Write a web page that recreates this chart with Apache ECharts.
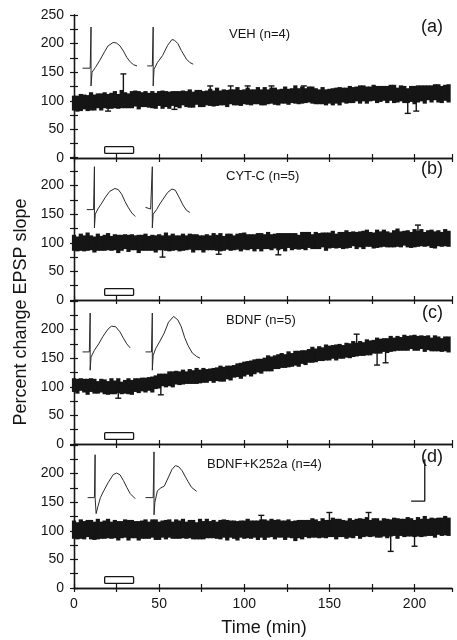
<!DOCTYPE html>
<html>
<head>
<meta charset="utf-8">
<script src="https://cdn.jsdelivr.net/npm/echarts@6/dist/echarts.min.js"></script>
<style>
html, body { margin: 0; padding: 0; background: #fff; }
#chart { width: 457px; height: 640px; }
</style>
</head>
<body>
<div id="chart"></div>
<script>
// sample times (min)
const times = [0,2,4,6,8,10,12,14,16,18,20,22,24,26,28,30,32,34,36,38,40,42,44,46,48,50,52,54,56,58,60,62,64,66,68,70,72,74,76,78,80,82,84,86,88,90,92,94,96,98,100,102,104,106,108,110,112,114,116,118,120,122,124,126,128,130,132,134,136,138,140,142,144,146,148,150,152,154,156,158,160,162,164,166,168,170,172,174,176,178,180,182,184,186,188,190,192,194,196,198,200,202,204,206,208,210,212,214,216,218,220];

// (a) VEH
const vehMean = [96,95,97,98,96,99,97,100,98,101,99,
  100,102,99,103,101,100,102,104,101,102,
  103,101,102,100,104,102,103,101,104,103,
  102,105,103,104,102,106,104,103,105,106,
  104,107,105,106,104,107,106,108,105,107,
  108,106,107,109,106,108,107,109,108,106,
  108,110,107,109,111,108,110,109,111,110,
  108,107,109,106,108,107,109,108,110,109,
  111,110,112,111,113,110,112,114,111,112,
  113,111,114,112,110,113,111,109,112,110,
  112,113,111,114,112,115,113,111,114,113];
const vehSem = [13,14,15,13,14,16,14,13,15,14,13,
  14,15,13,16,14,13,15,14,16,13,
  14,13,15,14,13,16,14,15,13,14,
  15,13,14,16,14,13,15,14,13,15,
  14,16,13,14,15,13,14,16,14,13,
  15,14,13,15,14,16,13,14,15,14,
  13,15,14,13,16,14,15,13,14,15,
  14,13,15,14,13,15,14,16,13,14,
  15,14,13,16,14,15,13,14,15,14,
  13,15,14,16,13,14,15,13,14,16,
  15,14,16,13,15,14,16,15,14,16];

// (b) CYT-C
const cytMean = [100,98,101,99,102,100,97,101,99,100,102,
  99,101,98,100,102,99,101,100,98,100,
  101,99,100,98,101,100,102,99,101,100,
  99,101,100,102,99,101,100,98,101,100,
  102,100,101,99,102,101,100,102,101,103,
  101,102,100,103,101,102,104,101,103,102,
  103,101,104,102,103,101,104,103,105,102,
  104,103,105,102,104,106,103,105,104,106,
  105,107,104,106,105,108,106,104,107,106,
  108,106,105,107,109,106,108,107,105,108,
  107,109,106,108,107,105,108,106,109,107];
const cytSem = [14,13,15,14,16,13,14,15,13,14,15,
  13,14,16,14,13,15,14,13,16,14,
  15,13,14,15,14,13,16,14,15,13,
  14,15,13,14,16,14,13,15,14,13,
  15,14,16,13,14,15,13,14,16,15,
  14,13,15,14,16,13,15,14,13,15,
  14,16,13,15,14,13,15,16,14,13,
  15,14,13,16,14,15,13,14,15,16,
  14,13,15,14,16,15,13,14,16,14,
  15,14,13,15,16,14,13,15,14,16,
  14,15,13,14,16,15,14,13,15,14];

// (c) BDNF
const bdnfMean = [103,101,104,102,100,103,101,99,102,100,98,
  101,99,102,98,100,101,99,103,102,104,
  103,105,104,108,110,112,111,114,113,116,
  115,117,116,118,117,119,118,120,119,121,
  120,122,123,122,125,124,127,129,128,131,
  133,132,135,137,136,139,141,140,143,144,
  146,145,148,147,150,149,152,151,154,156,
  155,158,157,160,159,161,160,162,161,164,
  163,166,165,167,166,169,168,170,172,171,
  173,172,175,174,176,175,177,176,178,177,
  176,178,175,177,174,176,175,173,175,174];
const bdnfSem = [12,13,11,12,14,12,13,11,12,13,12,
  14,12,13,11,12,14,13,12,13,12,
  13,12,14,12,13,11,12,13,14,12,
  12,13,11,13,12,14,12,13,12,11,
  13,12,14,13,12,13,11,12,14,13,
  12,14,13,12,13,12,14,13,12,13,
  13,12,14,12,13,14,12,13,12,14,
  12,13,12,14,13,12,14,13,12,13,
  13,14,12,13,12,14,13,12,14,13,
  12,13,14,12,13,12,14,13,12,14,
  13,12,14,13,12,14,13,12,13,14];

// (d) BDNF+K252a
const kMean = [102,100,103,101,104,102,100,103,101,102,104,
  101,103,100,102,104,101,103,102,100,102,
  103,101,104,102,100,103,102,104,101,103,
  102,104,101,103,102,100,103,101,104,102,
  103,101,102,104,101,103,102,100,103,102,
  104,102,103,101,104,102,103,105,102,104,
  103,101,104,102,100,103,102,104,103,105,
  104,102,105,103,104,106,103,105,104,102,
  105,103,106,104,105,107,104,106,105,103,
  106,104,105,107,104,106,105,107,106,104,
  107,105,108,106,107,105,108,107,109,107];
const kSem = [16,15,17,16,15,17,16,18,15,16,17,
  15,16,17,15,16,18,16,15,17,16,
  17,15,16,18,16,15,17,16,15,17,
  16,17,15,16,17,15,18,16,17,15,
  16,15,17,16,18,15,16,17,15,16,
  17,16,15,17,16,18,15,16,17,16,
  15,17,16,15,18,16,17,15,16,17,
  16,15,17,16,15,17,18,16,15,16,
  17,16,15,18,16,17,15,16,17,15,
  16,17,15,16,18,15,16,17,16,15,
  17,16,18,15,16,17,15,16,17,16];

// long error bars sticking out of the band: [t, low, high]
const vehBars = [[20,82,99],[29,100,147],[59,85,103],[80,104,126],[92,106,126],[102,107,126],[116,108,126],[135,110,126],[196,78,110],[201,82,111]];
const cytBars = [[52,75,100],[85,80,101],[120,79,102],[202,108,131]];
const bdnfBars = [[26,80,100],[51,86,110],[166,165,192],[178,138,170],[183,142,172]];
const kBars = [[110,105,127],[150,104,132],[173,106,132],[186,64,105],[200,73,106]];

// inset EPSP traces, drawn in panel units
const vehTraces = [
  [[5,157],[9.5,157],[10,229],[10,126],[10.6,150],[12.5,158],[15,170],[18,186],[20,196],[23,202],[25,201],[27,196],[29,187],[31,176],[33,168],[35,163],[37,161]],
  [[43,161],[46,161],[46.5,229],[46.5,126],[47,155],[49,167],[52,179],[55,197],[57.5,207],[59,206],[61,200],[63,188],[66,173],[68,167],[70,164]]
];
const cytTraces = [
  [[7.5,158],[11.5,158],[12,233],[12,126],[12.5,150],[14,159],[16,168],[18.5,180],[21,190],[24,195],[26,193],[28,185],[30,172],[32,161],[34,152],[36,146]],
  [[42,162],[45,159],[46,233],[46,126],[46.5,150],[48.5,158],[50,166],[52,175],[55,188],[57.5,194],[59.5,192],[62,178],[64,166],[66,157],[68,153]]
];
const bdnfTraces = [
  [[5,161],[9,161],[9.5,229],[9.5,129],[10,152],[12,164],[14.5,175],[17,188],[20,201],[22,206],[24.5,205],[27,196],[29,185],[31,175],[33,168]],
  [[42,161],[45.5,161],[46,229],[46,129],[46.5,155],[48,167],[50.5,180],[53,194],[55.5,213],[58.5,223],[61,217],[63,205],[65,186],[67,172],[69.5,159],[72,153],[74,150]]
];
const kTraces = [
  [[8,158],[12,158],[12.4,233],[12.4,158],[13,130],[14,142],[15.5,158],[17.5,170],[20,184],[23,198],[25,201],[27,198],[29,188],[31,176],[33,165],[36,156]],
  [[42,158],[46.5,158],[47,238],[47,128],[47.5,150],[49,170],[51,175],[53,178],[55.5,194],[57.5,207],[59.5,214],[61.5,212],[63.5,205],[65.5,194],[67,186],[69,176],[72,169]]
];
const scaleBar = [[198,152],[206,152],[206,225]];

// drug application bar: [start, end, low, high]
const stimBox = [18, 35, 8, 20];

const panelNames = ['VEH (n=4)', 'CYT-C (n=5)', 'BDNF (n=5)', 'BDNF+K252a (n=4)'];
const panelTags = ['(a)', '(b)', '(c)', '(d)'];
const xTicks = [0, 50, 100, 150, 200];
const yTicks = [0, 50, 100, 150, 200, 250];

const panels = [
  { mean: vehMean, sem: vehSem, bars: vehBars, traces: vehTraces },
  { mean: cytMean, sem: cytSem, bars: cytBars, traces: cytTraces },
  { mean: bdnfMean, sem: bdnfSem, bars: bdnfBars, traces: bdnfTraces },
  { mean: kMean, sem: kSem, bars: kBars, traces: kTraces }
];

const FONT = '"Liberation Sans", Arial, Helvetica, sans-serif';
const INK = '#151515';
const tops = [15, 157, 301, 445];
const panelH = 143;

const chart = echarts.init(document.getElementById('chart'));

const grids = [], xAxes = [], yAxes = [], series = [], texts = [];

const axisLineStyle = { show: true, lineStyle: { color: INK, width: 1.3 } };
const tickStyle = { show: true, inside: true, length: 4, lineStyle: { color: INK, width: 1.2 } };

panels.forEach(function (p, i) {
  grids.push({ left: 74, right: 5, top: tops[i], height: panelH });
  const last = i === panels.length - 1;
  ['bottom', 'top'].forEach(function (pos) {
    xAxes.push({
      type: 'value', gridIndex: i, position: pos, min: 0, max: 222, interval: 25,
      axisLine: axisLineStyle, axisTick: tickStyle, splitLine: { show: false },
      axisLabel: {
        show: last && pos === 'bottom', margin: 9, showMaxLabel: false,
        color: INK, fontFamily: FONT, fontSize: 14,
        formatter: function (v) { return xTicks.indexOf(v) >= 0 ? String(v) : ''; }
      }
    });
  });
  ['left', 'right'].forEach(function (pos) {
    yAxes.push({
      type: 'value', gridIndex: i, position: pos, min: 0, max: 250, interval: 25,
      axisLine: axisLineStyle, axisTick: tickStyle, splitLine: { show: false },
      axisLabel: {
        show: pos === 'left', margin: 10, color: INK, fontFamily: FONT, fontSize: 14,
        formatter: function (v) {
          if (yTicks.indexOf(v) < 0) return '';
          if (i > 0 && v === 250) return '';
          return String(v);
        }
      }
    });
  });

  const xi = i * 2, yi = i * 2;

  // mean +/- sem band
  series.push({
    type: 'custom', xAxisIndex: xi, yAxisIndex: yi, silent: true,
    data: times.map(function (t, k) { return [t, p.mean[k], p.sem[k]]; }),
    encode: { x: 0, y: 1 },
    renderItem: function (params, api) {
      const t = api.value(0), m = api.value(1), s = api.value(2);
      const a = api.coord([t - 1, m + s]);
      const b = api.coord([t + 1, m - s]);
      return {
        type: 'rect',
        shape: { x: a[0] - 0.4, y: a[1], width: b[0] - a[0] + 0.8, height: b[1] - a[1] },
        style: { fill: INK }
      };
    }
  });

  // stray error bars
  series.push({
    type: 'custom', xAxisIndex: xi, yAxisIndex: yi, silent: true,
    data: p.bars, encode: { x: 0, y: [1, 2] },
    renderItem: function (params, api) {
      const t = api.value(0);
      const lo = api.coord([t, api.value(1)]);
      const hi = api.coord([t, api.value(2)]);
      const st = { stroke: INK, lineWidth: 1.4 };
      return {
        type: 'group',
        children: [
          { type: 'line', shape: { x1: lo[0], y1: lo[1], x2: hi[0], y2: hi[1] }, style: st },
          { type: 'line', shape: { x1: lo[0] - 3, y1: lo[1], x2: lo[0] + 3, y2: lo[1] }, style: st },
          { type: 'line', shape: { x1: hi[0] - 3, y1: hi[1], x2: hi[0] + 3, y2: hi[1] }, style: st }
        ]
      };
    }
  });

  // inset traces
  p.traces.forEach(function (tr) {
    series.push({
      type: 'line', xAxisIndex: xi, yAxisIndex: yi, silent: true,
      data: tr, showSymbol: false, smooth: false,
      lineStyle: { color: '#2a2a2a', width: 1 }
    });
  });

  // drug application box
  series.push({
    type: 'custom', xAxisIndex: xi, yAxisIndex: yi, silent: true,
    data: [stimBox], encode: { x: [0, 1], y: [2, 3] },
    renderItem: function (params, api) {
      const a = api.coord([api.value(0), api.value(3)]);
      const b = api.coord([api.value(1), api.value(2)]);
      return {
        type: 'rect',
        shape: { x: a[0], y: a[1], width: b[0] - a[0], height: b[1] - a[1], r: 1 },
        style: { fill: '#fff', stroke: INK, lineWidth: 1.3 }
      };
    }
  });

  texts.push({
    type: 'text', left: [229, 226, 226, 207][i], top: tops[i] + 13,
    style: { text: panelNames[i], fill: INK, font: '13px ' + FONT }
  });
  texts.push({
    type: 'text', right: 14, top: tops[i] + 3,
    style: { text: panelTags[i], fill: INK, font: '18px ' + FONT }
  });
});

// calibration bar in panel (d)
series.push({
  type: 'line', xAxisIndex: 6, yAxisIndex: 6, silent: true,
  data: scaleBar, showSymbol: false,
  lineStyle: { color: INK, width: 1.3 }
});

texts.push({
  type: 'text', x: 21, y: 312, rotation: Math.PI / 2,
  style: { text: 'Percent change EPSP slope', fill: INK, font: '18px ' + FONT, align: 'center', verticalAlign: 'middle' }
});
texts.push({
  type: 'text', x: 264, y: 628,
  style: { text: 'Time (min)', fill: INK, font: '18px ' + FONT, align: 'center', verticalAlign: 'middle' }
});

chart.setOption({
  backgroundColor: '#fff',
  animation: false,
  grid: grids,
  xAxis: xAxes,
  yAxis: yAxes,
  series: series,
  graphic: texts
});
</script>
</body>
</html>
